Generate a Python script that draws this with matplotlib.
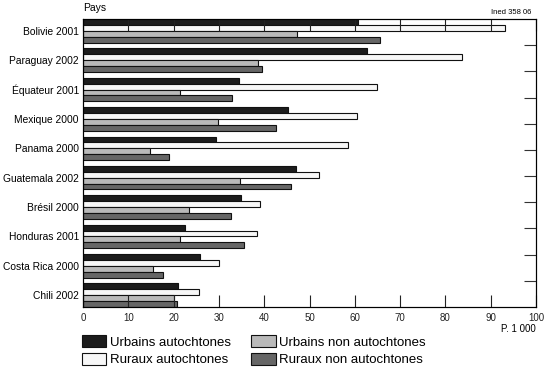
import numpy as np
import matplotlib
matplotlib.use("Agg")
import matplotlib.pyplot as plt
from matplotlib.patches import Patch

plt.rcParams['font.family'] = ['Liberation Sans', 'DejaVu Sans']

pays = ['Bolivie 2001', 'Paraguay 2002', 'Équateur 2001', 'Mexique 2000',
        'Panama 2000', 'Guatemala 2002', 'Brésil 2000', 'Honduras 2001',
        'Costa Rica 2000', 'Chili 2002']
urbains_auto = [60.6, 62.8, 34.5, 45.3, 29.4, 47.1, 34.9, 22.6, 25.9, 20.9]
ruraux_auto = [93.1, 83.6, 64.8, 60.4, 58.6, 52.0, 39.0, 38.3, 30.0, 25.7]
urbains_non = [47.3, 38.7, 21.3, 29.9, 14.7, 34.6, 23.4, 21.5, 15.4, 20.0]
ruraux_non = [65.5, 39.6, 32.9, 42.5, 19.0, 46.0, 32.7, 35.6, 17.6, 20.8]

series = [
    ('Urbains autochtones', urbains_auto, '#1c1c1c'),
    ('Ruraux autochtones', ruraux_auto, '#f7f7f7'),
    ('Urbains non autochtones', urbains_non, '#b9b9b9'),
    ('Ruraux non autochtones', ruraux_non, '#666666'),
]

fig = plt.figure(figsize=(5.5, 3.73), dpi=100)
ax = fig.add_axes([0.151, 0.177, 0.8235, 0.772])

y = np.arange(len(pays))
h = 0.2
for k, (name, vals, col) in enumerate(series):
    ax.barh(y - 0.3 + k * h, vals, height=h, color=col, edgecolor='#111111',
            linewidth=0.8, label=name)

ax.set_xlim(0, 100)
ax.set_ylim(len(pays) - 0.6, -0.4)
ax.set_yticks(y)
ax.set_yticklabels(pays, fontsize=7.4)
ax.tick_params(axis='y', length=0, pad=3)
ax.set_xticks(np.arange(0, 101, 10))
ax.tick_params(axis='x', direction='in', length=8.5, width=0.8, top=True,
               labelsize=7, pad=4, color='#222222')
for lab in ax.get_xticklabels():
    lab.set_color('#222222')
for s in ax.spines.values():
    s.set_linewidth(0.8)
    s.set_color('#222222')

# ticks on the right side
ax2 = ax.twinx()
ax2.set_ylim(0, 1)
ax2.set_yticks(np.arange(1, 11) / 11)
ax2.tick_params(axis='y', direction='in', length=9, width=0.8, labelright=False,
                color='#333333')

fig.text(0.151, 0.965, 'Pays', fontsize=7.5, ha='left', va='bottom')
fig.text(0.966, 0.958, 'Ined 358 06', fontsize=5.5, ha='right', va='bottom')
fig.text(0.974, 0.118, 'P. 1 000', fontsize=7, ha='right', va='center')

handles = [Patch(facecolor=c, edgecolor='#111111', linewidth=0.8) for _, _, c in series]
labels = [n for n, _, _ in series]
fig.legend(handles, labels, loc='upper left', bbox_to_anchor=(0.149, 0.101),
           ncol=2, frameon=False, fontsize=9.5, handlelength=1.85,
           handleheight=0.95, handletextpad=0.3, columnspacing=1.5,
           borderpad=0, borderaxespad=0, labelspacing=0.35)

fig.savefig('out.png', dpi=100)
